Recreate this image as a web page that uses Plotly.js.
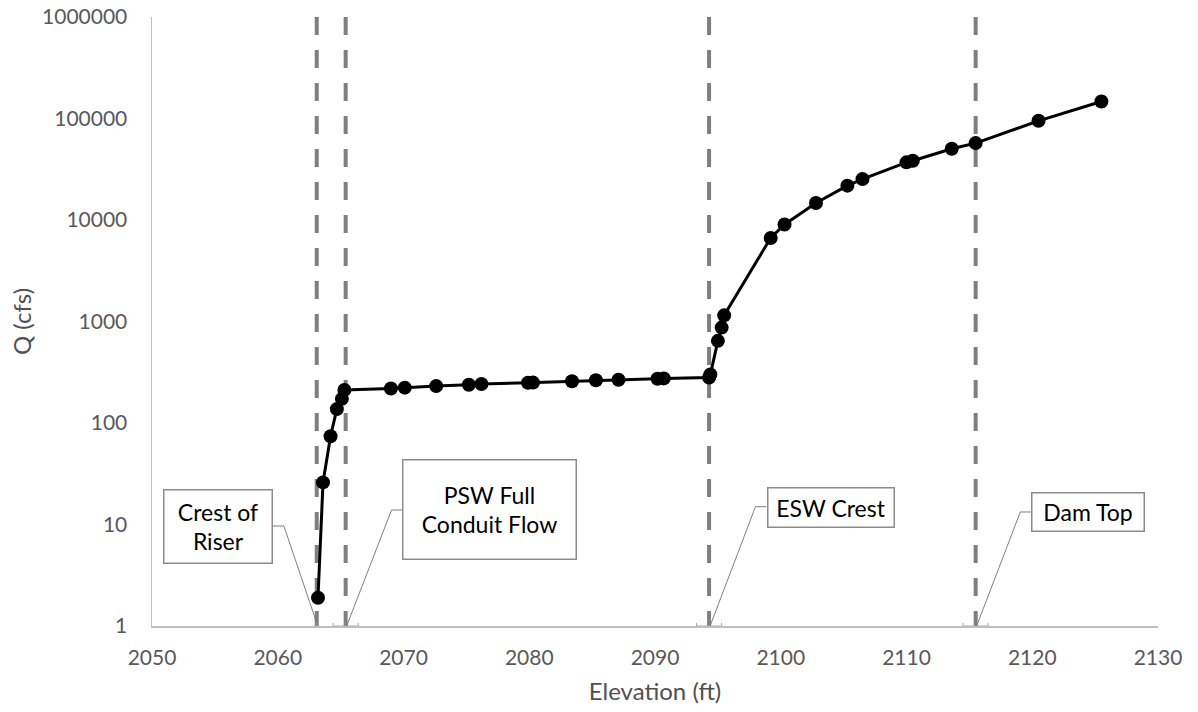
<!DOCTYPE html>
<html>
<head>
<meta charset="utf-8">
<script src="https://cdn.plot.ly/plotly-3.0.1.min.js"></script>
<style>
  html, body { margin: 0; padding: 0; background: #ffffff; }
  #chart { width: 1198px; height: 712px; }
</style>
</head>
<body>
<div id="chart"></div>
<script>
// Stage-discharge rating: reservoir elevation (ft) vs outflow Q (cfs)
const elevation = [2063.2, 2063.6, 2064.2, 2064.7, 2065.1, 2065.3, 2069.0, 2070.1, 2072.6, 2075.2,
                   2076.2, 2079.9, 2080.3, 2083.4, 2085.3, 2087.1, 2090.2, 2090.7, 2094.3, 2094.4,
                   2095.0, 2095.3, 2095.5, 2099.2, 2100.3, 2102.8, 2105.3, 2106.5, 2110.0, 2110.5,
                   2113.6, 2115.5, 2120.5, 2125.5];
const discharge = [1.9, 26, 74, 137, 173, 212, 219, 223, 231, 238,
                   242, 249, 250, 258, 264, 267, 273, 275, 280, 300,
                   645, 871, 1150, 6650, 9030, 14700, 21800, 25300, 37000, 38400,
                   50400, 57200, 94900, 147000];

// Key structure elevations (vertical reference lines)
const markerNames = ['Crest of<br>Riser', 'PSW Full<br>Conduit Flow', 'ESW Crest', 'Dam Top'];
const markerElev = [2063.1, 2065.4, 2094.3, 2115.5];
const markerBand = [null, 1, 1, 1];

// Axis ticks
const xTicks = [2050, 2060, 2070, 2080, 2090, 2100, 2110, 2120, 2130];
const yTicks = [1, 10, 100, 1000, 10000, 100000, 1000000];
const yTickText = ['1', '10', '100', '1000', '10000', '100000', '1000000'];

// Callout placement (box centre in x units / paper y, leader elbow)
const callouts = [
  {cx: 2055.21, cy: 0.1634, w: 101, h: 66, ex: 2059.56, ex2: 2060.49, ey: 0.1642},
  {cx: 2076.84, cy: 0.1913, w: 166, h: 92, ex: 2069.93, ex2: 2069.05, ey: 0.1905},
  {cx: 2103.96, cy: 0.1954, w: 119, h: 32, ex: 2098.86, ex2: 2097.99, ey: 0.1959},
  {cx: 2124.47, cy: 0.1869, w: 105, h: 31, ex: 2119.93, ex2: 2119.05, ey: 0.1872}
];

const FONT = 'Lato, "Open Sans", sans-serif';
const GRAY = '#7f7f7f';

const traces = [];

// dashed reference lines spanning the full y range
markerElev.forEach(function (e) {
  traces.push({
    x: [e, e], y: [yTicks[yTicks.length - 1], yTicks[0]],
    mode: 'lines', type: 'scatter',
    line: {color: GRAY, width: 4, dash: '18px,15px'},
    hoverinfo: 'skip', showlegend: false
  });
});

// small bracket at the base of the reference lines
traces.push({
  x: markerElev, y: markerElev.map(function () { return yTicks[0]; }),
  mode: 'markers', type: 'scatter',
  marker: {size: 1, opacity: 0},
  error_x: {type: 'data', array: markerBand, symmetric: true, width: 3, thickness: 1, color: '#a6a6a6'},
  cliponaxis: false, hoverinfo: 'skip', showlegend: false
});

// rating curve
traces.push({
  x: elevation, y: discharge,
  mode: 'lines+markers', type: 'scatter',
  line: {color: '#000000', width: 3},
  marker: {color: '#000000', size: 14},
  hoverinfo: 'x+y', showlegend: false
});

const shapes = [];
const annotations = [];
callouts.forEach(function (c, i) {
  shapes.push({
    type: 'path', xref: 'x', yref: 'paper',
    path: 'M ' + c.ex + ',' + c.ey + ' L ' + c.ex2 + ',' + c.ey + ' L ' + (markerElev[i] + 0.08) + ',0',
    line: {color: GRAY, width: 1}
  });
  annotations.push({
    x: c.cx, y: c.cy, xref: 'x', yref: 'paper',
    xanchor: 'center', yanchor: 'middle',
    text: markerNames[i], showarrow: false,
    width: c.w, height: c.h,
    bordercolor: '#8c8c8c', borderwidth: 1.5, borderpad: 3,
    bgcolor: '#ffffff',
    font: {family: FONT, size: 23, color: '#000000'}
  });
});

const layout = {
  width: 1198, height: 712,
  margin: {l: 152, r: 40, t: 17, b: 86},
  paper_bgcolor: '#ffffff', plot_bgcolor: '#ffffff',
  font: {family: FONT, color: '#595959'},
  xaxis: {
    range: [xTicks[0], xTicks[xTicks.length - 1]],
    tickvals: xTicks,
    showgrid: false, zeroline: false,
    showline: true, linecolor: '#bfbfbf', linewidth: 1.5,
    ticks: '', ticklabelstandoff: 12,
    tickfont: {family: FONT, size: 21, color: '#595959'},
    title: {text: 'Elevation (ft)', font: {family: FONT, size: 24, color: '#505050'}, standoff: 15}
  },
  yaxis: {
    type: 'log',
    range: [0, 6],
    tickvals: yTicks, ticktext: yTickText,
    showgrid: false, zeroline: false,
    showline: true, linecolor: '#bfbfbf', linewidth: 1.5,
    ticks: '', ticklabelstandoff: 19,
    tickfont: {family: FONT, size: 21, color: '#595959'},
    title: {text: 'Q (cfs)', font: {family: FONT, size: 24, color: '#505050'}, standoff: 3}
  },
  shapes: shapes,
  annotations: annotations
};

Plotly.newPlot('chart', traces, layout, {displayModeBar: false, staticPlot: true});
</script>
</body>
</html>
